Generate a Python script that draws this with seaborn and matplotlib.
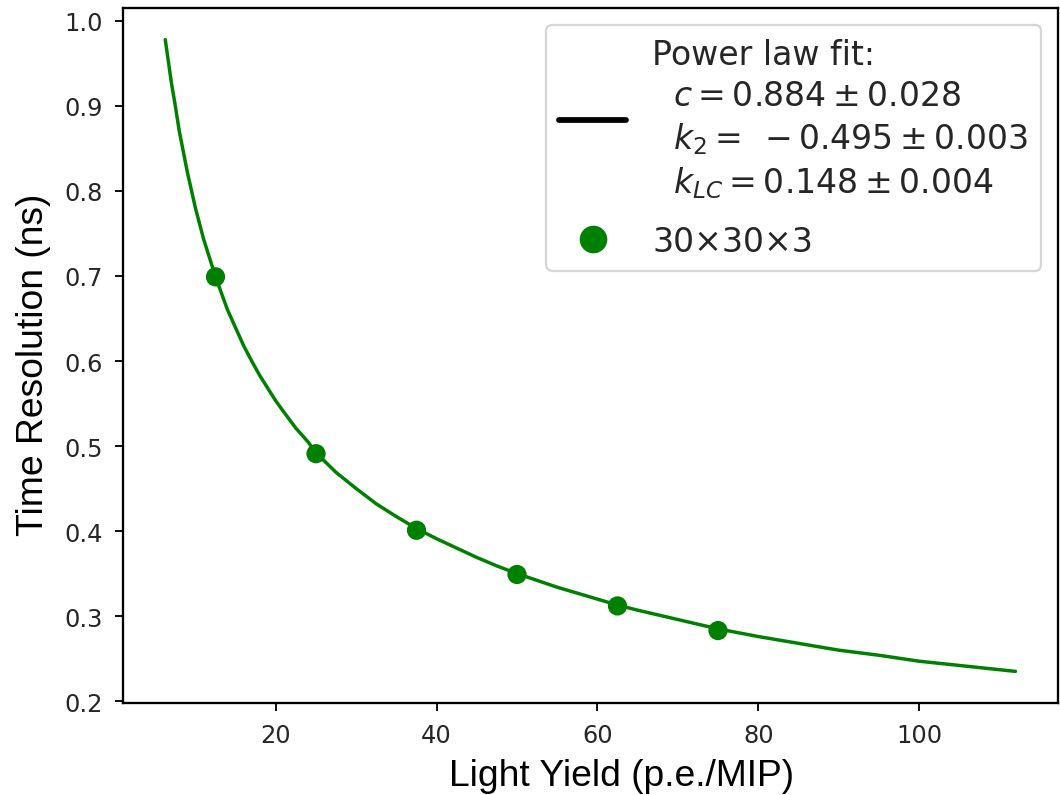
import numpy as np
import pandas as pd
import matplotlib
matplotlib.use("Agg")
import matplotlib.pyplot as plt
from matplotlib.lines import Line2D
import seaborn as sns

# measured points (light yield vs time resolution)
light_yield = [12.5, 25.0, 37.5, 50.0, 62.5, 75.0]
time_res = [0.699, 0.491, 0.401, 0.349, 0.312, 0.283]

# fit curve
fit_x = [6.25, 7, 7.5, 8, 8.5, 9, 9.5, 10, 11, 12.5, 14, 15, 16, 17, 18, 19,
         20, 21, 22.5, 24, 25, 27.5, 30, 32.5, 35, 37.5, 40, 42.5, 45, 47.5,
         50, 55, 60, 62.5, 65, 70, 75, 80, 85, 90, 95, 100, 106, 112]
fit_y = [0.978, 0.928, 0.900, 0.870, 0.846, 0.822, 0.801, 0.780, 0.744, 0.699,
         0.660, 0.639, 0.618, 0.600, 0.583, 0.568, 0.553, 0.540, 0.521, 0.505,
         0.492, 0.469, 0.450, 0.432, 0.417, 0.403, 0.391, 0.380, 0.369, 0.359,
         0.350, 0.334, 0.320, 0.313, 0.307, 0.296, 0.285, 0.276, 0.268, 0.260,
         0.254, 0.247, 0.241, 0.235]

fit_label = ("Power law fit:\n"
             "  $c = 0.884 \\pm 0.028$\n"
             "  $k_2 = \\; -0.495 \\pm 0.003$\n"
             "  $k_{LC} = 0.148 \\pm 0.004$")
point_label = "30×30×3"

sns.set_style("ticks")
plt.rcParams["font.family"] = ["DejaVu Sans"]

fig = plt.figure(figsize=(6.4, 796 / 165.625), dpi=165.625)
ax = fig.add_axes([0.1158, 0.1156, 0.8823, 0.8731])

df_fit = pd.DataFrame({"x": fit_x, "y": fit_y})
df_pts = pd.DataFrame({"x": light_yield, "y": time_res})

sns.lineplot(data=df_fit, x="x", y="y", color="green", linewidth=1.5, ax=ax,
             sort=False)
sns.scatterplot(data=df_pts, x="x", y="y", color="green", s=70,
                edgecolor="none", ax=ax, zorder=3)

for sp in ax.spines.values():
    sp.set_color("black")
    sp.set_linewidth(1.0)
ax.tick_params(colors="black", labelsize=10.5, length=3.5, width=0.8, pad=5)
for lab in ax.get_xticklabels() + ax.get_yticklabels():
    lab.set_color("0.15")

ax.set_xlabel("Light Yield (p.e./MIP)", family="Liberation Sans",
              fontsize=16.2, color="black", labelpad=5)
ax.set_ylabel("Time Resolution (ns)", family="Liberation Sans",
              fontsize=16.2, color="black", labelpad=6)
ax.xaxis.label.set_x(0.533)
ax.yaxis.label.set_y(0.488)

handles = [
    Line2D([], [], color="black", linewidth=2.5),
    Line2D([], [], color="green", marker="o", linestyle="none", markersize=11),
]
leg = ax.legend(handles, [fit_label, point_label], loc="upper right",
                fontsize=14.4, handlelength=2.0, framealpha=0.8,
                labelspacing=0.75)
for t in leg.get_texts():
    t.set_linespacing(1.3)

fig.savefig("out.png", dpi=165.625)
